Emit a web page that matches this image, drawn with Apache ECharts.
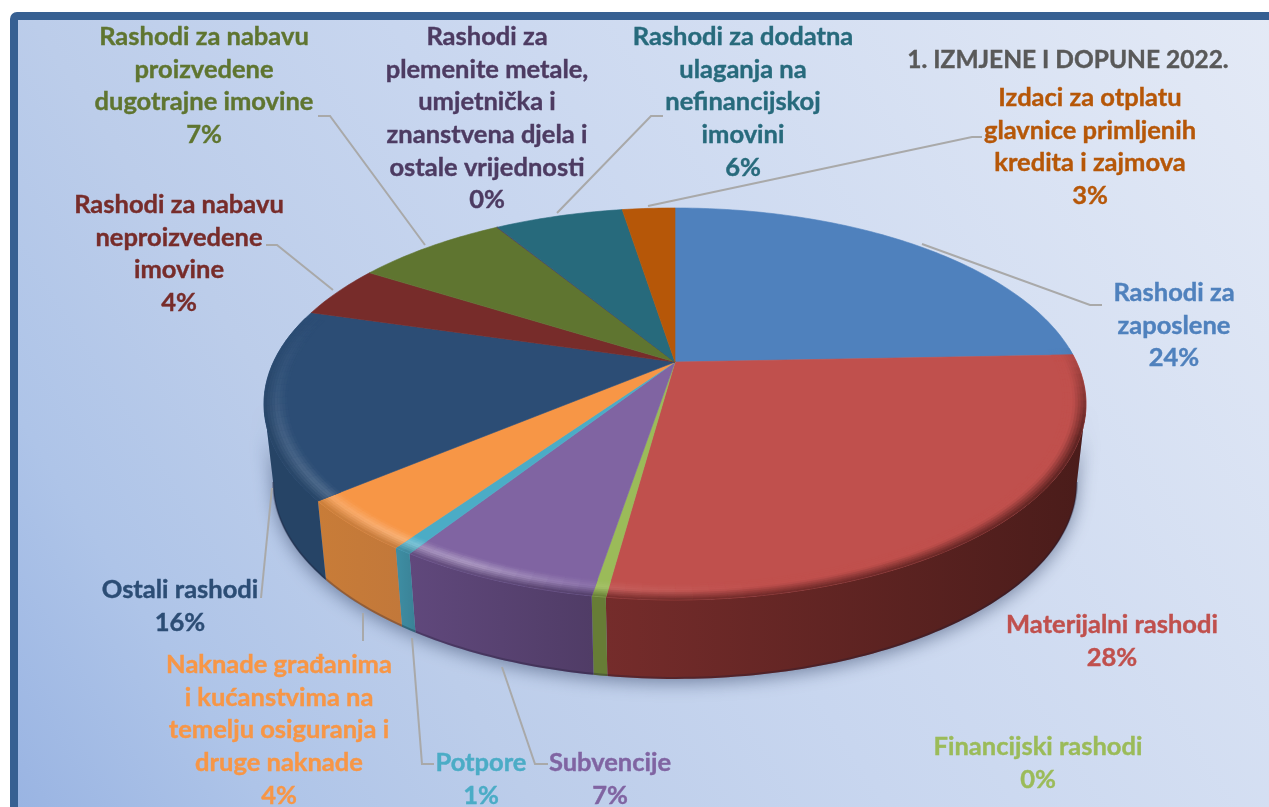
<!DOCTYPE html>
<html>
<head>
<meta charset="utf-8">
<style>
  html, body { margin: 0; padding: 0; background: #fff; }
  #chart { width: 1269px; height: 807px; }
</style>
</head>
<body>
<div id="chart"></div>
<script src="https://cdn.jsdelivr.net/npm/echarts@6/dist/echarts.min.js"></script>
<script>
const categories = [
  'Rashodi za\nzaposlene',
  'Materijalni rashodi',
  'Financijski rashodi',
  'Subvencije',
  'Potpore',
  'Naknade građanima\ni kućanstvima na\ntemelju osiguranja i\ndruge naknade',
  'Ostali rashodi',
  'Rashodi za nabavu\nneproizvedene\nimovine',
  'Rashodi za nabavu\nproizvedene\ndugotrajne imovine',
  'Rashodi za\nplemenite metale,\numjetnička i\nznanstvena djela i\nostale vrijednosti',
  'Rashodi za dodatna\nulaganja na\nnefinancijskoj\nimovini',
  'Izdaci za otplatu\nglavnice primljenih\nkredita i zajmova'
]
const values = [24.4, 27.8, 0.45, 6.51, 0.6, 4.2, 15.6, 4.4, 7.3, 0.05, 6.2, 2.55]
const chartTitle = '1. IZMJENE I DOPUNE 2022.'

const topColors = ['#4f81bd', '#c0504d', '#9bbb59', '#8064a2', '#4bacc6', '#f79646', '#2c4d75', '#772c2a', '#5f7530', '#4d3b62', '#276a7c', '#b65708']
const sideLeft = ['#35567f', '#752c2b', '#677d36', '#60487c', '#3e8ea4', '#c87c38', '#264466', '#501e1c', '#405020', '#342842', '#1a4854', '#7b3b05']
const sideRight = ['#35567f', '#4a1c1a', '#677d36', '#503c66', '#3a8296', '#c2783a', '#264466', '#501e1c', '#405020', '#342842', '#1a4854', '#7b3b05']

// label layout: centre x, y of first line
const labelPos = [
  [1174, 293], [1112, 625], [1038, 747], [610, 763], [481, 763], [279, 665],
  [180, 590], [179, 205], [204, 37], [487, 37], [743, 37], [1090, 98]
]
const leaderLines = [
  [[922, 244], [1090, 305], [1102, 305]],
  [[272, 488], [261, 598]],
  [[363, 613], [363, 641]],
  [[412, 638], [422, 764], [434, 764]],
  [[502, 667], [535, 764], [548, 764]],
  [[318, 116], [330, 116], [425, 245]],
  [[266, 245], [277, 245], [333, 290]],
  [[663, 116], [651, 116], [557, 213]],
  [[648, 206], [972, 137], [982, 137]]
]

const LINE_H = 32.6
const FONT = 'bold 25.5px Lato, "Open Sans", sans-serif'
const TITLE_FONT = 'bold 24.5px Lato, "Open Sans", sans-serif'

// perspective of the pie disc
const cx = 675, cy = 362, RX = 401.5, RY = 187, K = 0.214, DEPTH = 79
const SIDE_FROM = 102.4, SIDE_TO = 257.6
const total = values.reduce((a, b) => a + b, 0)

function project(deg, r, h) {
  const t = deg * Math.PI / 180
  const u = r * Math.sin(t), v = -r * Math.cos(t)
  const w = 1 - K * v
  let x = cx + RX * u / w
  let y = cy + RY * v / w
  if (h) {
    x = cx + (x - cx) * (1 - 0.0225 * h / DEPTH)
    y += h
  }
  return [x, y]
}

function arc(a, b, r, h, step) {
  const pts = []
  const n = Math.max(1, Math.ceil((b - a) / (step || 1)))
  for (let i = 0; i <= n; i++) pts.push(project(a + (b - a) * i / n, r, h))
  return pts
}

function hex(c) {
  return [1, 3, 5].map(i => parseInt(c.substr(i, 2), 16))
}
function mix(c1, c2, f) {
  const a = hex(c1), b = hex(c2)
  return '#' + a.map((v, i) => Math.round(v + (b[i] - v) * f).toString(16).padStart(2, '0')).join('')
}
function lerpTable(tab, t) {
  if (t <= tab[0][0]) return tab[0][1]
  for (let i = 1; i < tab.length; i++) {
    if (t <= tab[i][0]) {
      const f = (t - tab[i - 1][0]) / (tab[i][0] - tab[i - 1][0])
      return tab[i - 1][1] + (tab[i][1] - tab[i - 1][1]) * f
    }
  }
  return tab[tab.length - 1][1]
}
// how strong the bevel is and how much light it catches, by angle
const rimFade = [[85, 0], [112, 1], [250, 1], [285, 0]]
const rimLight = [[170, 0], [190, 0.1], [205, 0.36], [225, 0.2], [245, 0.12], [265, 0.08]]

const RIM_IN = 0.945, RIM_STRIPS = 9, RIM_STEP = 2

function renderSlice(params, api) {
  const i = params.dataIndex
  let before = 0
  for (let j = 0; j < i; j++) before += values[j]
  const a = before / total * 360
  const b = a + api.value(1) / total * 360
  const children = []

  // side wall
  const sa = Math.max(a, SIDE_FROM), sb = Math.min(b, SIDE_TO)
  if (sb > sa) {
    const bottom = arc(sa, sb, 1, DEPTH)
    children.push({
      type: 'polygon',
      shape: { points: arc(sa, sb, 1, 0).concat(bottom.slice().reverse()) },
      style: {
        fill: new echarts.graphic.LinearGradient(0, 0, 1, 0, [
          { offset: 0, color: sideLeft[i] },
          { offset: 1, color: sideRight[i] }
        ])
      }
    })
    children.push({
      type: 'polyline',
      shape: { points: arc(sa, sb, 1, DEPTH - 1) },
      style: { fill: 'none', stroke: 'rgba(30,25,50,0.3)', lineWidth: 2 }
    })
  }

  // top face
  children.push({
    type: 'polygon',
    shape: { points: [[cx, cy]].concat(arc(a, b, 1, 0)) },
    style: { fill: topColors[i], stroke: topColors[i], lineWidth: 0.6 }
  })

  // bevel along the front edge
  const n = Math.ceil((b - a) / RIM_STEP)
  for (let s = 0; s < n; s++) {
    const t0 = a + (b - a) * s / n, t1 = a + (b - a) * (s + 1) / n
    const tm = (t0 + t1) / 2
    const fade = lerpTable(rimFade, tm)
    if (fade <= 0) continue
    const light = mix(topColors[i], '#ffffff', lerpTable(rimLight, tm))
    const side = mix(sideRight[i], sideLeft[i], (tm - a) / (b - a))
    for (let k = 0; k < RIM_STRIPS; k++) {
      const f = (k + 0.5) / RIM_STRIPS
      let c = f < 0.45 ? mix(topColors[i], light, f / 0.45) : mix(light, side, (f - 0.45) / 0.55)
      c = mix(topColors[i], c, fade)
      const r0 = RIM_IN + (1 - RIM_IN) * k / RIM_STRIPS
      const r1 = RIM_IN + (1 - RIM_IN) * (k + 1) / RIM_STRIPS
      children.push({
        type: 'polygon',
        shape: { points: [project(t0, r0), project(t1, r0), project(t1, r1), project(t0, r1)] },
        style: { fill: c, stroke: c, lineWidth: 0.5 }
      })
    }
  }
  return { type: 'group', children }
}

function renderShadow() {
  return {
    type: 'polygon',
    shape: { points: arc(SIDE_FROM, SIDE_TO, 1, 0).concat(arc(SIDE_FROM, SIDE_TO, 1, DEPTH).reverse()) },
    style: { fill: '#8a9cc0', shadowColor: 'rgba(50,65,100,0.55)', shadowBlur: 18, shadowOffsetY: 4 }
  }
}

const elements = [{
  type: 'rect', z: -10,
  shape: { x: 14, y: 16, width: 1500, height: 1100, r: 3 },
  style: {
    stroke: '#376092', lineWidth: 8,
    fill: new echarts.graphic.LinearGradient(0, 807, 1269, 0, [
      { offset: 0, color: '#98b3e2' },
      { offset: 0.15, color: '#aec4e8' },
      { offset: 0.3, color: '#bccdea' },
      { offset: 0.5, color: '#c8d6ef' },
      { offset: 1, color: '#e4eaf6' }
    ], true)
  }
}]
leaderLines.forEach(points => {
  elements.push({
    type: 'polyline', z: 5,
    shape: { points },
    style: { fill: 'none', stroke: '#a9a9a9', lineWidth: 2 }
  })
})
categories.forEach((name, i) => {
  const text = name + '\n' + Math.round(values[i] / total * 100) + '%'
  const n = text.split('\n').length
  elements.push({
    type: 'text', z: 6,
    x: labelPos[i][0],
    y: labelPos[i][1] + (n - 1) * LINE_H / 2,
    style: {
      text, font: FONT, fill: topColors[i], stroke: topColors[i], lineWidth: 0.4,
      align: 'center', verticalAlign: 'middle', lineHeight: LINE_H
    }
  })
})
elements.push({
  type: 'text', z: 6, x: 1068, y: 60,
  style: { text: chartTitle, font: TITLE_FONT, fill: '#595959', stroke: '#595959', lineWidth: 0.4, align: 'center', verticalAlign: 'middle' }
})

const myChart = echarts.init(document.getElementById('chart'), null, { renderer: 'canvas' })
myChart.setOption({
  animation: false,
  backgroundColor: '#fff',
  graphic: { elements },
  series: [
    { type: 'custom', coordinateSystem: 'none', z: 1, silent: true, data: [[0]], renderItem: renderShadow },
    {
      type: 'custom', coordinateSystem: 'none', z: 2, silent: true,
      data: values.map((v, i) => [i, v]),
      renderItem: renderSlice
    }
  ]
})
</script>
</body>
</html>
